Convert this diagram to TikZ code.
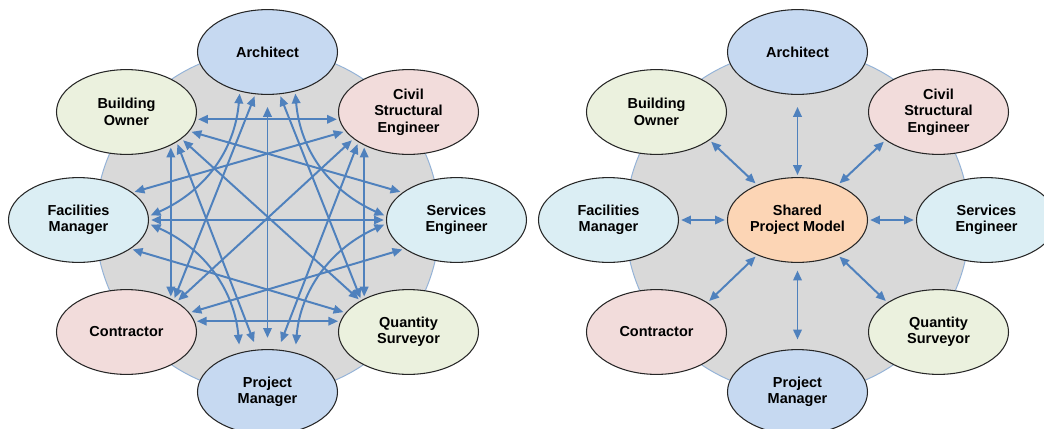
\documentclass[tikz,border=0pt]{standalone}
\usepackage{fontspec}
\setmainfont{Liberation Sans}
\usetikzlibrary{
    shapes.geometric,
    arrows.meta
}
\definecolor{archblue}{RGB}{198, 217, 241}
\definecolor{ownergreen}{RGB}{235, 241, 222}
\definecolor{civilpink}{RGB}{242, 220, 219}
\definecolor{facilcyan}{RGB}{219, 238, 244}
\definecolor{modelorange}{RGB}{252, 213, 181}
\definecolor{ringgray}{RGB}{217, 217, 217}
\definecolor{ringblue}{RGB}{149, 179, 215}
\definecolor{linkblue}{RGB}{79, 129, 189}

\begin{document}
\begin{tikzpicture}[
        party/.style={ellipse, draw=black!85, line width=0.75pt, minimum width=3.5cm, minimum height=2.12cm, inner sep=0pt, align=center, font=\fontsize{10.3}{11.7}\selectfont\bfseries},
        ring/.style={fill=ringgray, draw=ringblue, line width=0.7pt},
        link/.style={<->, >={Triangle[length=7pt, width=6pt]}, draw=linkblue, line width=1.4pt, shorten <=1.5pt, shorten >=1.5pt}
    ]
        \useasboundingbox (-6.6875, -5.2) rectangle (19.4125, 5.5);

        % Rings
        \draw[ring] (0, -0.05) circle (4.3cm);
        \draw[ring] (13.25, -0.05) circle (4.3cm);

        % Left: everyone talks to everyone
        \node[party, fill=archblue] (ar1) at (0, 4.2) {Architect};
        \node[party, fill=ownergreen] (bo1) at (-3.525, 2.7) {Building\\Owner};
        \node[party, fill=civilpink] (cs1) at (3.525, 2.7) {Civil\\Structural\\Engineer};
        \node[party, fill=facilcyan] (fm1) at (-4.725, 0) {Facilities\\Manager};
        \node[party, fill=facilcyan] (se1) at (4.725, 0) {Services\\Engineer};
        \node[party, fill=civilpink] (co1) at (-3.525, -2.8) {Contractor};
        \node[party, fill=ownergreen] (qs1) at (3.525, -2.8) {Quantity\\Surveyor};
        \node[party, fill=archblue] (pm1) at (0, -4.3) {Project\\Manager};

        % Straight links
        \draw[link] (bo1.-6) -- (cs1.186);
        \draw[link] (co1.9) -- (qs1.171);
        \draw[link] (fm1.0) -- (se1.180);
        \draw[link, shorten <=0.3cm, shorten >=0.28cm] (ar1.-90) -- (pm1.90);
        \draw[link] (bo1.-37) -- (co1.37);
        \draw[link] (cs1.217) -- (qs1.143);
        \draw[link] (bo1.-17) -- (se1.153);
        \draw[link] (cs1.197) -- (fm1.27);
        \draw[link] (fm1.-29) -- (qs1.163);
        \draw[link] (se1.209) -- (co1.17);
        \draw[link] (bo1.-26) -- (qs1.147);
        \draw[link] (cs1.206) -- (co1.31);
        \draw[link, shorten >=0.2cm] (bo1.-31) -- (pm1.104);
        \draw[link, shorten >=0.2cm] (cs1.211) -- (pm1.76);
        \draw[link] (co1.34) -- (ar1.254);
        \draw[link] (qs1.146) -- (ar1.286);

        % Curved links
        \draw[link] (ar1.235) to[out=-95, in=24] (fm1.3);
        \draw[link] (ar1.305) to[out=-85, in=156] (se1.177);
        \draw[link, shorten <=0.2cm] (pm1.125) to[out=95, in=-24] (fm1.-3);
        \draw[link, shorten <=0.2cm] (pm1.55) to[out=85, in=204] (se1.183);

        % Right: everyone talks to the model
        \node[party, fill=modelorange] (spm) at (13.25, 0) {Shared\\Project Model};
        \node[party, fill=archblue] (ar2) at (13.25, 4.2) {Architect};
        \node[party, fill=ownergreen] (bo2) at (9.725, 2.7) {Building\\Owner};
        \node[party, fill=civilpink] (cs2) at (16.775, 2.7) {Civil\\Structural\\Engineer};
        \node[party, fill=facilcyan] (fm2) at (8.525, 0) {Facilities\\Manager};
        \node[party, fill=facilcyan] (se2) at (17.975, 0) {Services\\Engineer};
        \node[party, fill=civilpink] (co2) at (9.725, -2.8) {Contractor};
        \node[party, fill=ownergreen] (qs2) at (16.775, -2.8) {Quantity\\Surveyor};
        \node[party, fill=archblue] (pm2) at (13.25, -4.3) {Project\\Manager};

        % Links to the model
        \draw[link, shorten <=0.3cm, shorten >=0.05cm] (ar2.-90) -- (spm.90);
        \draw[link, shorten <=0.19cm, shorten >=0.24cm] (spm.-90) -- (pm2.90);
        \draw[link] (bo2.-28) -- (spm.139);
        \draw[link] (cs2.208) -- (spm.41);
        \draw[link] (co2.30) -- (spm.221);
        \draw[link] (qs2.150) -- (spm.-41);
        \draw[link] (fm2.0) -- (spm.180);
        \draw[link] (spm.0) -- (se2.180);
    \end{tikzpicture}
\end{document}
